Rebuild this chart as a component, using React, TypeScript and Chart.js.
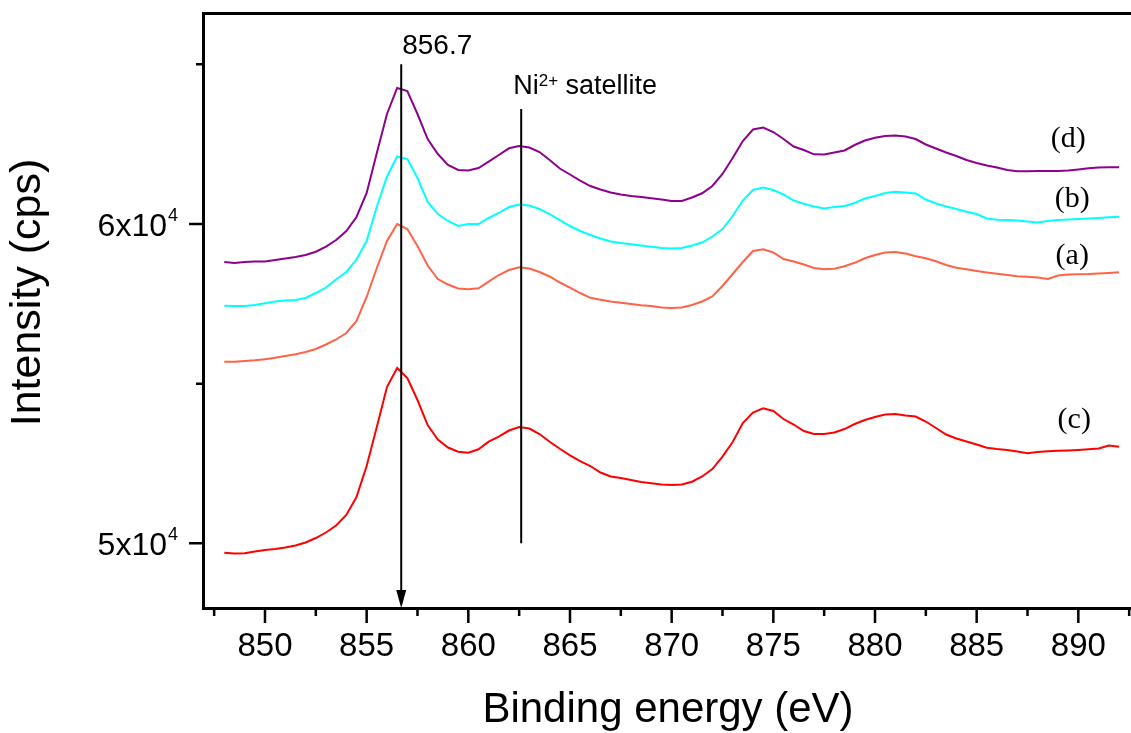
import { useEffect, useRef } from "react";
import { Chart, registerables } from "chart.js";

Chart.register(...registerables);

// Ni 2p XPS spectra, binding energy in eV
const bindingEnergy = [
  848, 848.5, 849, 849.5, 850, 850.5, 851, 851.5, 852, 852.5,
  853, 853.5, 854, 854.5, 855, 855.5, 856, 856.5, 857, 857.5,
  858, 858.5, 859, 859.5, 860, 860.5, 861, 861.5, 862, 862.5,
  863, 863.5, 864, 864.5, 865, 865.5, 866, 866.5, 867, 867.5,
  868, 868.5, 869, 869.5, 870, 870.5, 871, 871.5, 872, 872.5,
  873, 873.5, 874, 874.5, 875, 875.5, 876, 876.5, 877, 877.5,
  878, 878.5, 879, 879.5, 880, 880.5, 881, 881.5, 882, 882.5,
  883, 883.5, 884, 884.5, 885, 885.5, 886, 886.5, 887, 887.5,
  888, 888.5, 889, 889.5, 890, 890.5, 891, 891.5, 892,
];

// intensity (cps) of sample (a)
const intensityA = [
  55687, 55687, 55709, 55731, 55762, 55812, 55866, 55919, 55991, 56085,
  56226, 56383, 56586, 56962, 57714, 58622, 59468, 60000, 59843, 59311,
  58700, 58277, 58105, 57980, 57955, 57986, 58193, 58403, 58559, 58644,
  58606, 58497, 58356, 58168, 58011, 57839, 57689, 57629, 57573, 57532,
  57494, 57457, 57432, 57385, 57369, 57385, 57463, 57573, 57729, 58058,
  58434, 58810, 59154, 59208, 59107, 58904, 58825, 58732, 58622, 58584,
  58597, 58675, 58785, 58926, 59029, 59107, 59123, 59076, 58992, 58929,
  58832, 58716, 58631, 58581, 58528, 58481, 58440, 58403, 58365, 58349,
  58324, 58277, 58387, 58418, 58428, 58434, 58450, 58465, 58487,
];

// intensity (cps) of sample (b)
const intensityB = [
  57441, 57432, 57432, 57463, 57516, 57573, 57604, 57620, 57682, 57839,
  58011, 58262, 58497, 58888, 59468, 60542, 61488, 62114, 62036, 61441,
  60689, 60313, 60094, 59937, 60000, 60000, 60188, 60345, 60532, 60611,
  60579, 60470, 60313, 60125, 59937, 59781, 59655, 59546, 59452, 59405,
  59364, 59327, 59286, 59248, 59233, 59248, 59327, 59421, 59608, 59843,
  60251, 60736, 61065, 61143, 61065, 60924, 60736, 60633, 60548, 60485,
  60532, 60564, 60658, 60799, 60877, 60971, 61012, 60987, 60955, 60767,
  60642, 60548, 60470, 60385, 60313, 60172, 60135, 60125, 60110, 60078,
  60047, 60094, 60125, 60141, 60157, 60172, 60188, 60210, 60229,
];

// intensity (cps) of sample (c)
const intensityC = [
  49705, 49680, 49686, 49743, 49790, 49821, 49868, 49931, 50025, 50166,
  50338, 50557, 50886, 51450, 52421, 53642, 54895, 55490, 55177, 54488,
  53705, 53250, 53000, 52868, 52837, 52944, 53182, 53338, 53532, 53642,
  53595, 53423, 53182, 52962, 52756, 52577, 52421, 52217, 52092, 52045,
  51982, 51919, 51879, 51841, 51825, 51841, 51929, 52092, 52327, 52718,
  53172, 53767, 54096, 54228, 54143, 53893, 53720, 53517, 53423, 53423,
  53470, 53579, 53736, 53861, 53955, 54034, 54049, 54002, 53971, 53814,
  53611, 53407, 53282, 53188, 53094, 52994, 52953, 52922, 52875, 52818,
  52859, 52881, 52897, 52906, 52922, 52944, 52969, 53063, 53025,
];

// intensity (cps) of sample (d)
const intensityD = [
  58810, 58779, 58810, 58825, 58825, 58872, 58919, 58966, 59029, 59132,
  59289, 59499, 59781, 60219, 60971, 62224, 63445, 64260, 64166, 63445,
  62662, 62192, 61848, 61691, 61676, 61754, 61951, 62161, 62371, 62443,
  62396, 62255, 62004, 61738, 61550, 61362, 61190, 61081, 60987, 60924,
  60877, 60846, 60805, 60767, 60720, 60720, 60830, 60962, 61190, 61566,
  62067, 62600, 62960, 63022, 62881, 62662, 62427, 62318, 62183, 62177,
  62239, 62302, 62474, 62615, 62703, 62756, 62772, 62741, 62662, 62490,
  62365, 62239, 62130, 62004, 61911, 61832, 61770, 61691, 61651, 61651,
  61660, 61660, 61660, 61676, 61707, 61745, 61770, 61776, 61776,
];

const seriesNames = ["(a)", "(b)", "(c)", "(d)"];
const seriesColors = ["#FF6347", "#00FFFF", "#FF0000", "#8E008E"];
// where each curve's name is written (energy, intensity)
const seriesLabelX = [889.7, 889.7, 889.8, 889.5];
const seriesLabelY = [58998, 60783, 53861, 62662];

const xMajorTicks = [850, 855, 860, 865, 870, 875, 880, 885, 890];
const xMinorTicks = [847.5, 852.5, 857.5, 862.5, 867.5, 872.5, 877.5, 882.5, 887.5, 892.5];
const yMajorTicks = [50000, 60000];
const yMajorMantissa = ["5x10", "6x10"];
const yMajorExponent = ["4", "4"];
const yMinorTicks = [55000, 65000];

const X_MIN = 847.05;
const X_MAX = 892.59;
const Y_MIN = 47974;
const Y_MAX = 66577;

// main peak marker and the satellite marker
const peakEnergy = 856.7;
const peakLabel = "856.7";
const peakArrowTop = 65000;
const satelliteEnergy = 862.6;
const satelliteTop = 63600;
const satelliteBottom = 50000;

const SANS = "'Liberation Sans', Arial, Helvetica, sans-serif";
const SERIF = "'Liberation Serif', 'Times New Roman', serif";

const decorations = {
  id: "xpsDecorations",
  afterDraw(chart: any) {
    const { ctx, chartArea, scales } = chart;
    const xs = scales.x;
    const ys = scales.y;
    const left = chartArea.left;
    const top = chartArea.top;
    const bottom = chartArea.bottom;
    const right = chart.width;

    ctx.save();
    ctx.strokeStyle = "#000";
    ctx.fillStyle = "#000";

    // frame: left, top and bottom spines
    ctx.lineWidth = 3;
    ctx.beginPath();
    ctx.moveTo(left - 1.5, top - 2);
    ctx.lineTo(left - 1.5, bottom + 2);
    ctx.moveTo(left - 3, top - 0.5);
    ctx.lineTo(right, top - 0.5);
    ctx.moveTo(left - 3, bottom + 0.5);
    ctx.lineTo(right, bottom + 0.5);
    ctx.stroke();

    // tick marks, pointing outwards
    ctx.lineWidth = 2.5;
    ctx.beginPath();
    for (const v of xMajorTicks) {
      const p = xs.getPixelForValue(v);
      ctx.moveTo(p, bottom + 1);
      ctx.lineTo(p, bottom + 15);
    }
    for (const v of xMinorTicks) {
      const p = xs.getPixelForValue(v);
      ctx.moveTo(p, bottom + 1);
      ctx.lineTo(p, bottom + 8);
    }
    for (const v of yMajorTicks) {
      const p = ys.getPixelForValue(v);
      ctx.moveTo(left - 2, p);
      ctx.lineTo(left - 16, p);
    }
    for (const v of yMinorTicks) {
      const p = ys.getPixelForValue(v);
      ctx.moveTo(left - 2, p);
      ctx.lineTo(left - 9, p);
    }
    ctx.stroke();

    // y tick labels with exponent
    yMajorTicks.forEach((v, i) => {
      const p = ys.getPixelForValue(v);
      ctx.font = `32px ${SANS}`;
      ctx.textAlign = "right";
      ctx.textBaseline = "alphabetic";
      ctx.fillText(yMajorMantissa[i], 167, p + 12);
      ctx.font = `18px ${SANS}`;
      ctx.textAlign = "left";
      ctx.fillText(yMajorExponent[i], 168, p - 3);
    });

    // y axis title
    ctx.save();
    ctx.translate(28.5, 292.5);
    ctx.rotate(-Math.PI / 2);
    ctx.font = `43px ${SANS}`;
    ctx.textAlign = "center";
    ctx.textBaseline = "middle";
    ctx.fillText("Intensity (cps)", 0, 0);
    ctx.restore();

    // arrow at the main Ni 2p3/2 peak
    const px = xs.getPixelForValue(peakEnergy);
    const pTop = ys.getPixelForValue(peakArrowTop);
    ctx.lineWidth = 2;
    ctx.beginPath();
    ctx.moveTo(px, pTop);
    ctx.lineTo(px, bottom - 4);
    ctx.stroke();
    ctx.beginPath();
    ctx.moveTo(px - 5, bottom - 18);
    ctx.lineTo(px + 5, bottom - 18);
    ctx.lineTo(px, bottom);
    ctx.closePath();
    ctx.fill();
    ctx.font = `28px ${SANS}`;
    ctx.textAlign = "left";
    ctx.textBaseline = "alphabetic";
    ctx.fillText(peakLabel, px + 1, pTop - 10);

    // satellite marker
    const sx = xs.getPixelForValue(satelliteEnergy);
    const sTop = ys.getPixelForValue(satelliteTop);
    const sBottom = ys.getPixelForValue(satelliteBottom);
    ctx.beginPath();
    ctx.moveTo(sx, sTop);
    ctx.lineTo(sx, sBottom);
    ctx.stroke();
    const baseY = sTop - 15;
    let tx = sx - 8;
    ctx.font = `27px ${SANS}`;
    ctx.fillText("Ni", tx, baseY);
    tx += ctx.measureText("Ni").width;
    ctx.font = `17px ${SANS}`;
    ctx.fillText("2+", tx, baseY - 8);
    tx += ctx.measureText("2+").width;
    ctx.font = `27px ${SANS}`;
    ctx.fillText(" satellite", tx, baseY);

    // curve names
    ctx.font = `30px ${SERIF}`;
    ctx.textAlign = "center";
    ctx.textBaseline = "middle";
    seriesNames.forEach((name, i) => {
      ctx.fillText(name, xs.getPixelForValue(seriesLabelX[i]), ys.getPixelForValue(seriesLabelY[i]));
    });

    ctx.restore();
  },
};

export default function App() {
  const canvasRef = useRef<HTMLCanvasElement | null>(null);

  useEffect(() => {
    const canvas = canvasRef.current;
    if (!canvas) return;
    const seriesValues = [intensityA, intensityB, intensityC, intensityD];
    const chart = new Chart(canvas, {
      type: "line",
      data: {
        datasets: seriesValues.map((values, i) => ({
          label: seriesNames[i],
          data: bindingEnergy.map((x, j) => ({ x, y: values[j] })),
          borderColor: seriesColors[i],
          backgroundColor: seriesColors[i],
          borderWidth: 2,
          pointRadius: 0,
          tension: 0,
          fill: false,
        })),
      },
      options: {
        responsive: false,
        maintainAspectRatio: false,
        animation: false,
        devicePixelRatio: 1,
        layout: { padding: { left: 205, top: 14, right: 0, bottom: 0 } },
        plugins: {
          legend: { display: false },
          tooltip: { enabled: false },
        },
        scales: {
          x: {
            type: "linear",
            position: "bottom",
            min: X_MIN,
            max: X_MAX,
            afterFit: (scale: any) => {
              scale.height = 125;
            },
            grid: { display: false, drawTicks: false },
            border: { display: false },
            ticks: {
              stepSize: 5,
              includeBounds: false,
              autoSkip: false,
              maxRotation: 0,
              padding: 19,
              color: "#000",
              font: { family: SANS, size: 33 },
              callback: (v: any) => String(v),
            },
            title: {
              display: true,
              text: "Binding energy (eV)",
              color: "#000",
              font: { family: SANS, size: 42, lineHeight: 1 },
              padding: { top: 0, bottom: 2 },
            },
          },
          y: {
            type: "linear",
            display: false,
            min: Y_MIN,
            max: Y_MAX,
          },
        },
      },
      plugins: [decorations],
    } as any);
    return () => chart.destroy();
  }, []);

  return (
    <div style={{ position: "fixed", left: 0, top: 0, width: 1131, height: 733, background: "#fff" }}>
      <canvas ref={canvasRef} width={1131} height={733} style={{ display: "block" }} />
    </div>
  );
}
